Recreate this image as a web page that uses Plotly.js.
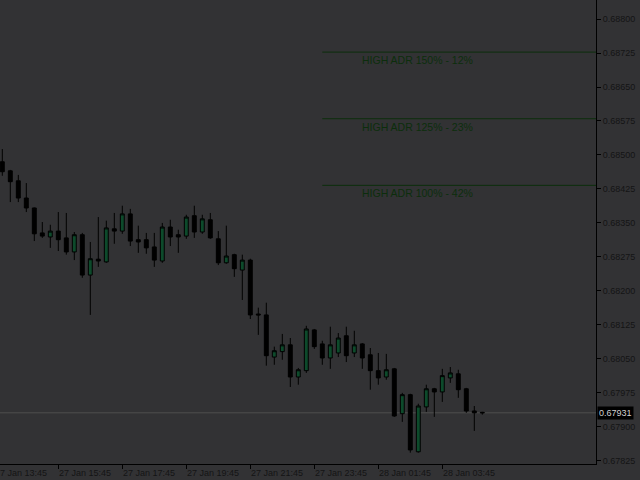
<!DOCTYPE html>
<html><head><meta charset="utf-8">
<script src="https://cdn.plot.ly/plotly-3.0.1.min.js"></script>
<style>html,body{margin:0;padding:0;background:#323234;}#chart{width:640px;height:480px;}</style>
</head><body><div id="chart"></div>
<script>
const times = [
"2020-01-27 14:00","2020-01-27 14:15","2020-01-27 14:30","2020-01-27 14:45",
"2020-01-27 15:00","2020-01-27 15:15","2020-01-27 15:30","2020-01-27 15:45",
"2020-01-27 16:00","2020-01-27 16:15","2020-01-27 16:30","2020-01-27 16:45",
"2020-01-27 17:00","2020-01-27 17:15","2020-01-27 17:30","2020-01-27 17:45",
"2020-01-27 18:00","2020-01-27 18:15","2020-01-27 18:30","2020-01-27 18:45",
"2020-01-27 19:00","2020-01-27 19:15","2020-01-27 19:30","2020-01-27 19:45",
"2020-01-27 20:00","2020-01-27 20:15","2020-01-27 20:30","2020-01-27 20:45",
"2020-01-27 21:00","2020-01-27 21:15","2020-01-27 21:30","2020-01-27 21:45",
"2020-01-27 22:00","2020-01-27 22:15","2020-01-27 22:30","2020-01-27 22:45",
"2020-01-27 23:00","2020-01-27 23:15","2020-01-27 23:30","2020-01-27 23:45",
"2020-01-28 00:00","2020-01-28 00:15","2020-01-28 00:30","2020-01-28 00:45",
"2020-01-28 01:00","2020-01-28 01:15","2020-01-28 01:30","2020-01-28 01:45",
"2020-01-28 02:00","2020-01-28 02:15","2020-01-28 02:30","2020-01-28 02:45",
"2020-01-28 03:00","2020-01-28 03:15","2020-01-28 03:30","2020-01-28 03:45",
"2020-01-28 04:00","2020-01-28 04:15","2020-01-28 04:30","2020-01-28 04:45",
"2020-01-28 05:00"];
const openP = [0.68485,0.68465,0.68443,0.68405,0.68383,0.68328,0.68319,0.68332,0.68317,0.68286,
0.68324,0.68235,0.68270,0.68264,0.68337,0.68332,0.68370,0.68313,0.68313,0.68297,
0.68266,0.68341,0.68324,0.68321,0.68366,0.68330,0.68357,0.68315,0.68262,0.68280,
0.68246,0.68268,0.68149,0.68147,0.68054,0.68066,0.68081,0.68010,0.68024,0.68114,
0.68083,0.68052,0.68063,0.68101,0.68063,0.68083,0.68059,0.68024,0.68010,0.68028,
0.67929,0.67971,0.67845,0.67944,0.67984,0.67977,0.68008,0.68017,0.67984,0.67935,0.67932];
const highP = [0.68513,0.68467,0.68456,0.68438,0.68384,0.68352,0.68346,0.68374,0.68372,0.68330,
0.68328,0.68308,0.68363,0.68355,0.68372,0.68388,0.68381,0.68344,0.68328,0.68328,
0.68350,0.68357,0.68335,0.68368,0.68388,0.68368,0.68372,0.68332,0.68344,0.68282,
0.68280,0.68271,0.68163,0.68174,0.68077,0.68105,0.68096,0.68030,0.68123,0.68116,
0.68090,0.68121,0.68107,0.68121,0.68112,0.68085,0.68074,0.68063,0.68061,0.68030,
0.67975,0.67973,0.67951,0.67993,0.67986,0.68028,0.68032,0.68026,0.67986,0.67946,0.67933];
const lowP = [0.68454,0.68396,0.68396,0.68374,0.68310,0.68317,0.68295,0.68288,0.68280,0.68268,
0.68229,0.68147,0.68253,0.68262,0.68304,0.68326,0.68299,0.68284,0.68282,0.68253,
0.68262,0.68299,0.68284,0.68315,0.68317,0.68326,0.68315,0.68257,0.68260,0.68231,
0.68180,0.68138,0.68103,0.68035,0.68037,0.68048,0.67988,0.67993,0.68019,0.68072,
0.68037,0.68028,0.68054,0.68043,0.68054,0.68028,0.67982,0.67993,0.68004,0.67922,
0.67911,0.67843,0.67843,0.67933,0.67922,0.67955,0.67997,0.67964,0.67931,0.67891,0.67927];
const closeP = [0.68463,0.68441,0.68405,0.68383,0.68326,0.68321,0.68332,0.68313,0.68286,0.68324,
0.68235,0.68271,0.68266,0.68339,0.68332,0.68370,0.68310,0.68308,0.68295,0.68268,
0.68341,0.68319,0.68319,0.68363,0.68330,0.68359,0.68317,0.68262,0.68277,0.68249,
0.68268,0.68147,0.68147,0.68057,0.68068,0.68081,0.68010,0.68026,0.68116,0.68077,
0.68052,0.68081,0.68096,0.68057,0.68081,0.68052,0.68024,0.68008,0.68026,0.67924,
0.67971,0.67849,0.67946,0.67984,0.67977,0.68013,0.68019,0.67982,0.67935,0.67931,0.67931];

const tickTimes = ["2020-01-27 13:45","2020-01-27 15:45","2020-01-27 17:45","2020-01-27 19:45",
"2020-01-27 21:45","2020-01-27 23:45","2020-01-28 01:45","2020-01-28 03:45"];
const tickLabels = ["27 Jan 13:45","27 Jan 15:45","27 Jan 17:45","27 Jan 19:45",
"27 Jan 21:45","27 Jan 23:45","28 Jan 01:45","28 Jan 03:45"];
const priceTicks = [0.67825,0.67900,0.67975,0.68050,0.68125,0.68200,0.68275,0.68350,
0.68425,0.68500,0.68575,0.68650,0.68725,0.68800];
const adrLevels = [0.68433,0.68580,0.68727];
const adrLabels = ["HIGH ADR 100% - 42%","HIGH ADR 125% - 23%","HIGH ADR 150% - 12%"];
const dayStart = "2020-01-28 00:00";
const lastPrice = 0.67931;

const xStart = "2020-01-27 13:55:41", xEnd = "2020-01-28 08:33:11";
const yRange = [0.67818, 0.68842];
const FONT = "Liberation Sans, Arial, sans-serif";
const TXT = "#141414";
const ADR_COLOR = "#0c2e0c";

const trace = {
  type: "candlestick", x: times, open: openP, high: highP, low: lowP, close: closeP,
  increasing: {line: {color: "#000000", width: 1}, fillcolor: "#0d4a2b"},
  decreasing: {line: {color: "#000000", width: 1}, fillcolor: "#000000"},
  whiskerwidth: 0, hoverinfo: "skip", showlegend: false
};

const shapes = [{type: "line", xref: "paper", x0: 0, x1: 1, yref: "y", y0: lastPrice, y1: lastPrice,
  line: {color: "#4e4e4e", width: 1}, layer: "below"}];
const annotations = [];
adrLevels.forEach((lv, i) => {
  shapes.push({type: "line", xref: "x", x0: dayStart, x1: xEnd, yref: "y", y0: lv, y1: lv,
    line: {color: ADR_COLOR, width: 1}});
  annotations.push({xref: "x", x: dayStart, xanchor: "left", xshift: 39, yref: "y", y: lv,
    yanchor: "top", yshift: -1, text: adrLabels[i], showarrow: false, borderpad: 0,
    font: {family: FONT, size: 10.5, color: ADR_COLOR}});
});
annotations.push({xref: "paper", x: 1, xanchor: "left", xshift: 1, yref: "y", y: lastPrice,
  yanchor: "middle", text: lastPrice.toFixed(5), showarrow: false, bgcolor: "#000000",
  borderpad: 1, font: {family: FONT, size: 9, color: "#d2d2d2"}});

// x tick labels drawn left-aligned from each tick (as in the terminal)
const t0 = Date.parse(xStart.replace(" ", "T")), t1 = Date.parse(xEnd.replace(" ", "T"));
tickTimes.forEach((t, i) => {
  const tt = Date.parse(t.replace(" ", "T"));
  annotations.push({xref: "paper", x: (tt - t0) / (t1 - t0), xanchor: "left", xshift: 0,
    yref: "paper", y: 0, yanchor: "top", yshift: -3, text: tickLabels[i], showarrow: false,
    borderpad: 0, font: {family: FONT, size: 9, color: TXT}});
});

const layout = {
  width: 640, height: 480,
  margin: {l: 0, r: 44, t: 0, b: 16, pad: 0},
  paper_bgcolor: "#323234", plot_bgcolor: "#323234",
  showlegend: false, dragmode: false,
  font: {family: FONT, size: 9, color: TXT},
  xaxis: {type: "date", range: [xStart, xEnd], rangeslider: {visible: false},
    tickmode: "array", tickvals: tickTimes, ticktext: tickLabels, showticklabels: false,
    ticks: "outside", ticklen: 4, tickcolor: "#000000",
    showgrid: false, zeroline: false, showline: true, linecolor: "#000000", linewidth: 1,
    fixedrange: true},
  yaxis: {side: "right", range: yRange, tickmode: "array", tickvals: priceTicks,
    ticktext: priceTicks.map(v => v.toFixed(5)),
    ticks: "outside", ticklen: 4, tickcolor: "#000000", showgrid: false, zeroline: false,
    showline: true, linecolor: "#000000", linewidth: 1,
    tickfont: {family: FONT, size: 9, color: TXT}, fixedrange: true},
  shapes: shapes, annotations: annotations
};
Plotly.newPlot("chart", [trace], layout, {displayModeBar: false, staticPlot: true});
</script></body></html>
